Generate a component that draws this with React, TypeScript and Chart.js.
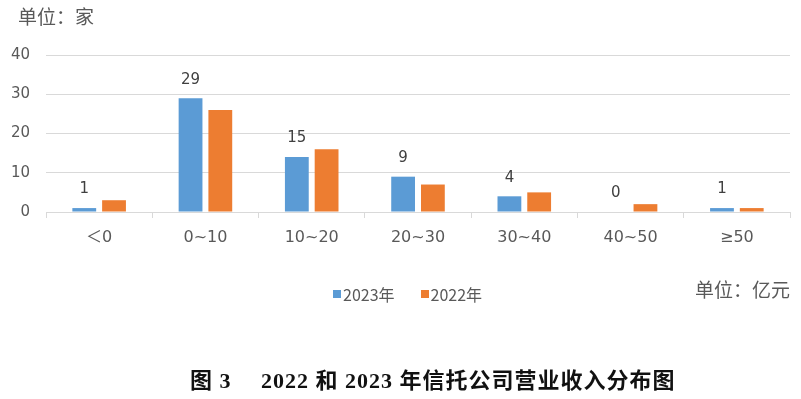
import React, { useEffect, useRef } from "react";
import { Chart, registerables } from "chart.js";

Chart.register(...registerables);

const categories = ["＜0", "0~10", "10~20", "20~30", "30~40", "40~50", "≥50"];
const values2023 = [1, 29, 14, 9, 4, 0, 1];
const values2022 = [3, 26, 16, 7, 5, 2, 1];
const labels2023 = ["1", "29", "15", "9", "4", "0", "1"];
const seriesNames = ["2023年", "2022年"];
const yTicks = [0, 10, 20, 30, 40];

const BLUE = "#5B9BD5";
const ORANGE = "#ED7D31";
const TEXT = "#595959";
const GRID = "#d9d9d9";
const NUM_FONT = "'DejaVu Sans', 'Noto Sans CJK SC', sans-serif";
const CJK_FONT = "'Noto Sans CJK SC', sans-serif";

const valueLabelPlugin = {
  id: "valueLabels",
  afterDatasetsDraw(chart: any) {
    const ctx = chart.ctx;
    const meta = chart.getDatasetMeta(0);
    ctx.save();
    ctx.font = `15px ${NUM_FONT}`;
    ctx.fillStyle = "#404040";
    ctx.textAlign = "center";
    ctx.textBaseline = "bottom";
    meta.data.forEach((bar: any, i: number) => {
      ctx.fillText(labels2023[i], bar.x, bar.y - 11);
    });
    ctx.restore();
  },
};

export default function App() {
  const ref = useRef<HTMLCanvasElement | null>(null);
  useEffect(() => {
    if (!ref.current) return;
    const chart = new Chart(ref.current, {
      type: "bar",
      data: {
        labels: categories,
        datasets: [
          { label: seriesNames[0], data: values2023, backgroundColor: BLUE },
          { label: seriesNames[1], data: values2022, backgroundColor: ORANGE },
        ],
      },
      options: {
        animation: false,
        responsive: false,
        maintainAspectRatio: false,
        layout: { padding: { top: 55, right: 11, left: 0, bottom: 0 } },
        datasets: { bar: { categoryPercentage: 0.56, barPercentage: 0.8 } },
        plugins: { legend: { display: false }, tooltip: { enabled: false } },
        scales: {
          x: {
            afterFit(scale: any) {
              scale.height = 187;
            },
            grid: {
              offset: true,
              drawOnChartArea: false,
              drawTicks: true,
              tickLength: 6,
              color: GRID,
            },
            border: { display: true, color: GRID, width: 1 },
            ticks: { color: TEXT, font: { size: 16, family: NUM_FONT }, padding: 10 },
          },
          y: {
            min: 0,
            max: 40,
            afterFit(scale: any) {
              scale.width = 46;
            },
            afterBuildTicks(scale: any) {
              scale.ticks = yTicks.map((v) => ({ value: v }));
            },
            grid: { color: GRID, drawTicks: false, lineWidth: 1 },
            border: { display: false },
            ticks: { color: TEXT, font: { size: 15, family: NUM_FONT }, padding: 16 },
          },
        },
      },
      plugins: [valueLabelPlugin],
    });
    return () => chart.destroy();
  }, []);

  return (
    <div style={{ position: "fixed", left: 0, top: 0, width: 801, height: 399, background: "#fff", overflow: "hidden" }}>
      <canvas ref={ref} width={801} height={399} style={{ position: "absolute", left: 0, top: 0 }} />
      <div style={{ position: "absolute", left: 18, top: 2, font: `19px ${CJK_FONT}`, color: TEXT }}>单位：家</div>
      <div style={{ position: "absolute", left: 333, top: 282, display: "flex", alignItems: "center", font: `16px ${CJK_FONT}`, color: TEXT }}>
        <span style={{ width: 8, height: 8, background: BLUE, display: "inline-block", marginRight: 2 }} />
        <span>{seriesNames[0]}</span>
        <span style={{ width: 8, height: 8, background: ORANGE, display: "inline-block", marginLeft: 26, marginRight: 2 }} />
        <span>{seriesNames[1]}</span>
      </div>
      <div style={{ position: "absolute", right: 11, top: 275, font: `19px ${CJK_FONT}`, color: TEXT }}>单位：亿元</div>
      <div style={{ position: "absolute", left: 190, top: 362, font: `bold 22px 'Liberation Serif', 'Noto Sans CJK SC', serif`, color: "#111", whiteSpace: "pre", letterSpacing: 1 }}>图 3　 2022 和 2023 年信托公司营业收入分布图</div>
    </div>
  );
}
